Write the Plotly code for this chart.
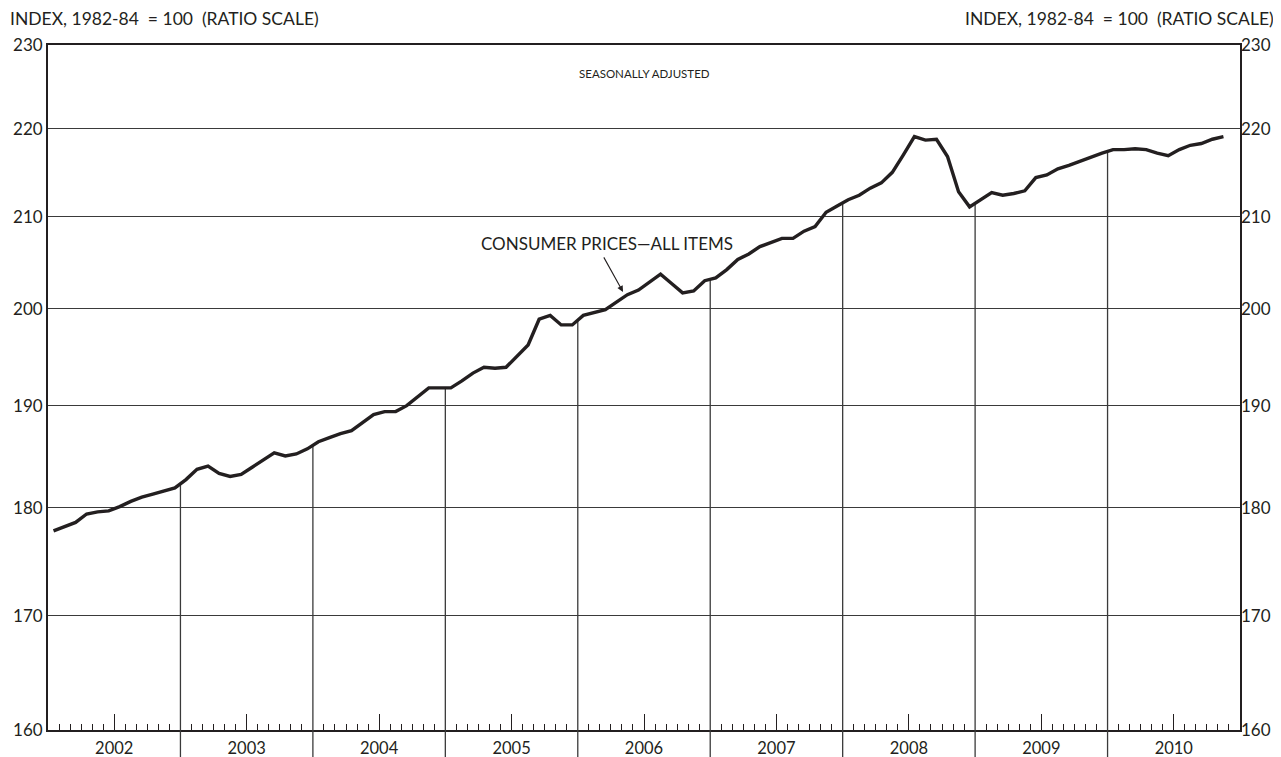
import math
import plotly.graph_objects as go

# ---------------- data ----------------
start_year = 2002
year_labels = ["2002", "2003", "2004", "2005", "2006", "2007", "2008", "2009", "2010"]
y_ticks = [160, 170, 180, 190, 200, 210, 220, 230]

cpi_2002 = [177.8, 178.2, 178.6, 179.4, 179.6, 179.7, 180.1, 180.6, 181.0, 181.3, 181.6, 181.9]
cpi_2003 = [182.7, 183.7, 184.0, 183.3, 183.0, 183.2, 183.9, 184.6, 185.3, 185.0, 185.2, 185.7]
cpi_2004 = [186.4, 186.8, 187.2, 187.5, 188.3, 189.1, 189.4, 189.4, 190.0, 190.9, 191.8, 191.8]
cpi_2005 = [191.8, 192.5, 193.3, 193.9, 193.8, 193.9, 195.0, 196.2, 198.9, 199.3, 198.3, 198.3]
cpi_2006 = [199.3, 199.6, 199.9, 200.7, 201.5, 202.0, 202.8, 203.7, 202.7, 201.7, 201.9, 203.0]
cpi_2007 = [203.3, 204.2, 205.3, 205.9, 206.7, 207.2, 207.6, 207.6, 208.4, 208.9, 210.5, 211.2]
cpi_2008 = [211.9, 212.4, 213.2, 213.8, 215.0, 217.0, 219.1, 218.7, 218.8, 216.8, 212.8, 211.1]
cpi_2009 = [211.9, 212.7, 212.4, 212.6, 212.9, 214.4, 214.7, 215.4, 215.8, 216.3, 216.8, 217.2]
cpi_2010 = [217.6, 217.6, 217.7, 217.6, 217.2, 216.9, 217.6, 218.1, 218.3, 218.8, 219.1]

cpi = (cpi_2002 + cpi_2003 + cpi_2004 + cpi_2005 + cpi_2006 + cpi_2007
       + cpi_2008 + cpi_2009 + cpi_2010)

# ---------------- derived ----------------
n_years = len(year_labels)
x_vals = [start_year + (i + 0.5) / 12 for i in range(len(cpi))]
ink = "#231f20"
grid = "#3a3a3a"
font_family = "Lato, 'Open Sans', sans-serif"

fig = go.Figure()
fig.add_trace(go.Scatter(
    x=x_vals, y=cpi, mode="lines",
    line=dict(color=ink, width=3.4), hoverinfo="skip", showlegend=False,
))
# invisible trace to activate right-hand axis
fig.add_trace(go.Scatter(
    x=x_vals, y=cpi, mode="lines", yaxis="y2",
    line=dict(color="rgba(0,0,0,0)", width=0), hoverinfo="skip", showlegend=False,
))

shapes = []
for k in range(1, n_years):
    bx = start_year + k
    v = math.sqrt(cpi[12 * k - 1] * cpi[12 * k])
    shapes.append(dict(type="line", xref="x", yref="y", x0=bx, x1=bx,
                       y0=y_ticks[0], y1=v, line=dict(color=grid, width=1.3), layer="below"))
    shapes.append(dict(type="line", xref="x", yref="paper", x0=bx, x1=bx,
                       y0=-0.06, y1=0, line=dict(color=grid, width=1.3)))

major_ticks = [start_year + k + 0.5 for k in range(n_years)]
minor_ticks = [start_year + k + m / 12 for k in range(n_years) for m in range(1, 12) if m != 6]

axis_font = dict(family=font_family, size=17, color=ink)
year_font = dict(family=font_family, size=16.5, color=ink)
title_text = "INDEX, 1982-84 \u00a0= 100 \u00a0(RATIO SCALE)"
title_y = (730 - 18.5) / 685

fig.update_layout(
    width=1273, height=749,
    margin=dict(l=40, r=41, t=37, b=27, autoexpand=False),
    paper_bgcolor="white", plot_bgcolor="white",
    font=dict(family=font_family, color=ink),
    showlegend=False,
    shapes=shapes,
    xaxis=dict(
        range=[start_year, start_year + n_years], automargin=False,
        tickmode="array", tickvals=major_ticks, ticktext=year_labels,
        ticks="inside", ticklen=16, tickwidth=1.2, tickcolor=ink,
        ticklabelstandoff=2,
        minor=dict(tickmode="array", tickvals=minor_ticks, ticks="inside",
                   ticklen=6, tickwidth=1, tickcolor=ink, showgrid=False),
        showgrid=False, zeroline=False,
        showline=True, mirror=True, linecolor=ink, linewidth=1.8,
        tickfont=year_font,
    ),
    yaxis=dict(
        type="log", range=[math.log10(y_ticks[0]), math.log10(y_ticks[-1])],
        automargin=False,
        tickmode="array", tickvals=y_ticks, ticktext=[str(t) for t in y_ticks],
        ticks="", showgrid=True, gridcolor=grid, gridwidth=1.3,
        zeroline=False, showline=True, mirror=True, linecolor=ink, linewidth=1.8,
        tickfont=axis_font,
    ),
    yaxis2=dict(
        type="log", range=[math.log10(y_ticks[0]), math.log10(y_ticks[-1])],
        overlaying="y", side="right", automargin=False,
        tickmode="array", tickvals=y_ticks, ticktext=[str(t) for t in y_ticks],
        ticks="", showgrid=False, zeroline=False, showline=False,
        tickfont=axis_font,
    ),
    annotations=[
        dict(text=title_text, xref="paper", yref="paper", borderpad=0,
             x=(9 - 48) / 1192, y=title_y, xanchor="left", yanchor="middle", showarrow=False,
             font=dict(family=font_family, size=17.5, color=ink)),
        dict(text=title_text, xref="paper", yref="paper", borderpad=0,
             x=(1275 - 48) / 1192, y=title_y, xanchor="right", yanchor="middle", showarrow=False,
             font=dict(family=font_family, size=17.5, color=ink)),
        dict(text="SEASONALLY ADJUSTED", xref="paper", yref="paper",
             x=0.5008, y=0.958, xanchor="center", yanchor="middle", showarrow=False,
             font=dict(family=font_family, size=11.5, color=ink)),
        dict(text="CONSUMER PRICES\u2014ALL ITEMS", xref="paper", yref="paper",
             x=(607 - 48) / 1192, y=(730 - 243) / 685, xanchor="center", yanchor="middle",
             showarrow=False, font=dict(family=font_family, size=17, color=ink)),
        dict(text="", xref="x", yref="y",
             x=start_year + (623 - 48) / 1192 * 9, y=math.log10(201.8),
             ax=-20, ay=-36, showarrow=True, arrowhead=2, arrowsize=1.1,
             arrowwidth=1.1, arrowcolor=ink),
    ],
)

fig.write_html("out.html")
